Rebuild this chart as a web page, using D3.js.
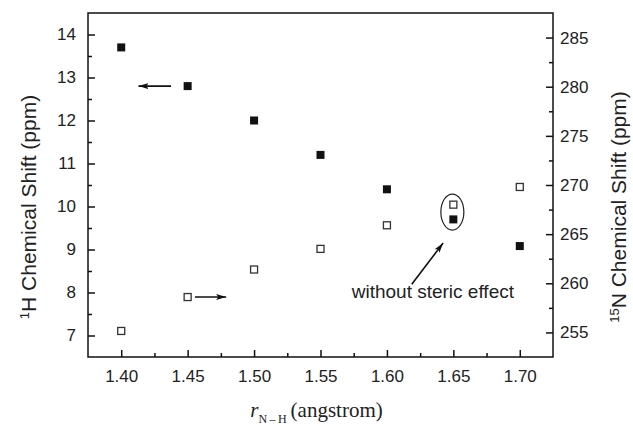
<!DOCTYPE html>
<html>
<head>
<meta charset="utf-8">
<script src="https://cdn.jsdelivr.net/npm/d3@7"></script>
<style>
  body { margin: 0; background: #fff; }
  svg { display: block; }
  .tick text { font-family: "Liberation Sans", Arial, sans-serif; font-size: 17px; fill: #222; }
</style>
</head>
<body>
<div id="chart"></div>
<script>
// bond length r(N-H) vs chemical shifts
let rNH = [1.40, 1.45, 1.50, 1.55, 1.60, 1.65, 1.70]
let hShift = [13.7, 12.8, 12.0, 11.2, 10.4, 9.7, 9.08]       // 1H, left axis (filled)
let nShift = [255.15, 258.6, 261.4, 263.5, 265.9, 268.0, 269.8] // 15N, right axis (open)
let xTicks = [1.40, 1.45, 1.50, 1.55, 1.60, 1.65, 1.70]
let hTicks = [7, 8, 9, 10, 11, 12, 13, 14]
let nTicks = [255, 260, 265, 270, 275, 280, 285]

var margin = {top: 13, right: 80, bottom: 70, left: 88},
    width = 633 - margin.left - margin.right,
    height = 427 - margin.top - margin.bottom;

var svg = d3.select("#chart")
    .append("svg")
        .attr("width", 633)
        .attr("height", 427)
    .append("g")
        .attr("transform", "translate(" + margin.left + "," + margin.top + ")");

var x = d3.scaleLinear().domain([1.375, 1.725]).range([0, width]);
var yH = d3.scaleLinear().domain([6.5, 14.5]).range([height, 0]);
var yN = d3.scaleLinear().domain([252.5, 287.5]).range([height, 0]);

// arrow head
svg.append("defs").append("marker")
    .attr("id", "head")
    .attr("viewBox", "0 0 10 6")
    .attr("refX", 10).attr("refY", 3)
    .attr("markerWidth", 10).attr("markerHeight", 6)
    .attr("markerUnits", "userSpaceOnUse")
    .attr("orient", "auto")
    .append("path").attr("d", "M0,0 L10,3 L0,6 L2,3 Z").attr("fill", "#111");

// minor ticks
var minorX = d3.range(1.425, 1.72, 0.05)
var minorH = d3.range(7.5, 14.4, 1)
var minorN = d3.range(257.5, 286, 5)
svg.append("g").attr("transform", "translate(0," + height + ")")
    .call(d3.axisBottom(x).tickValues(minorX).tickSize(-4).tickFormat(""))
svg.append("g")
    .call(d3.axisLeft(yH).tickValues(minorH).tickSize(-4).tickFormat(""))
svg.append("g").attr("transform", "translate(" + width + ",0)")
    .call(d3.axisRight(yN).tickValues(minorN).tickSize(-4).tickFormat(""))

// major axes
svg.append("g").attr("transform", "translate(0," + height + ")")
    .call(d3.axisBottom(x).tickValues(xTicks).tickSize(-7).tickPadding(13).tickFormat(d3.format(".2f")))
svg.append("g")
    .call(d3.axisLeft(yH).tickValues(hTicks).tickSize(-7).tickPadding(12))
svg.append("g").attr("transform", "translate(" + width + ",0)")
    .call(d3.axisRight(yN).tickValues(nTicks).tickSize(-7).tickPadding(7))

svg.selectAll(".domain").remove()
svg.selectAll(".tick line").attr("stroke", "#111").attr("stroke-width", 1.5)

// frame
svg.append("rect")
    .attr("width", width).attr("height", height)
    .attr("fill", "none").attr("stroke", "#111").attr("stroke-width", 1.5)

// 1H points (filled)
var sq = 8
svg.selectAll(".hpt")
    .data(rNH)
    .enter()
    .append("rect")
        .attr("class", "hpt")
        .attr("x", function(d) { return x(d) - sq / 2 })
        .attr("y", function(d, i) { return yH(hShift[i]) - sq / 2 })
        .attr("width", sq).attr("height", sq)
        .attr("fill", "#111")

// 15N points (open)
svg.selectAll(".npt")
    .data(rNH)
    .enter()
    .append("rect")
        .attr("class", "npt")
        .attr("x", function(d) { return x(d) - sq / 2 + 0.5 })
        .attr("y", function(d, i) { return yN(nShift[i]) - sq / 2 + 0.5 })
        .attr("width", sq - 1).attr("height", sq - 1)
        .attr("fill", "#fff")
        .attr("stroke", "#333").attr("stroke-width", 1.3)

// arrows pointing at the axis each series belongs to
svg.append("line")
    .attr("x1", x(1.4375)).attr("y1", yH(12.8))
    .attr("x2", x(1.413)).attr("y2", yH(12.8))
    .attr("stroke", "#111").attr("stroke-width", 1.6)
    .attr("marker-end", "url(#head)")
svg.append("line")
    .attr("x1", x(1.4555)).attr("y1", yN(258.6))
    .attr("x2", x(1.479)).attr("y2", yN(258.6))
    .attr("stroke", "#111").attr("stroke-width", 1.6)
    .attr("marker-end", "url(#head)")

// ellipse + note for the 1.65 pair
svg.append("ellipse")
    .attr("cx", x(1.65) - 1).attr("cy", (yN(nShift[5]) + yH(hShift[5])) / 2)
    .attr("rx", 11.5).attr("ry", 18)
    .attr("fill", "none").attr("stroke", "#222").attr("stroke-width", 1.2)
svg.append("line")
    .attr("x1", x(1.6187)).attr("y1", yN(259.9))
    .attr("x2", x(1.6423)).attr("y2", yN(264.1))
    .attr("stroke", "#111").attr("stroke-width", 1.6)
    .attr("marker-end", "url(#head)")
svg.append("text")
    .attr("x", x(1.5735)).attr("y", yN(258.5))
    .style("font-family", "Liberation Sans, Arial, sans-serif")
    .style("font-size", "19px").style("fill", "#222")
    .text("without steric effect")

// axis titles
var left = svg.append("text")
    .attr("transform", "translate(" + (-52) + "," + (height / 2 + 22) + ") rotate(-90)")
    .attr("text-anchor", "middle")
    .style("font-family", "Liberation Sans, Arial, sans-serif")
    .style("font-size", "21px").style("fill", "#222")
left.append("tspan").attr("baseline-shift", "super").style("font-size", "13px").text("1")
left.append("tspan").text("H Chemical Shift (ppm)")

var right = svg.append("text")
    .attr("transform", "translate(" + (width + 73) + "," + (height / 2 + 22) + ") rotate(-90)")
    .attr("text-anchor", "middle")
    .style("font-family", "Liberation Sans, Arial, sans-serif")
    .style("font-size", "21px").style("fill", "#222")
right.append("tspan").attr("baseline-shift", "super").style("font-size", "13px").text("15")
right.append("tspan").text("N Chemical Shift (ppm)")

var xt = svg.append("text")
    .attr("x", width / 2 - 4).attr("y", height + 60)
    .attr("text-anchor", "middle")
    .style("font-family", "Liberation Serif, 'Times New Roman', serif")
    .style("font-size", "21px").style("fill", "#222")
xt.append("tspan").style("font-style", "italic").text("r")
xt.append("tspan").attr("baseline-shift", "-6").style("font-size", "12px").text("N\u2009\u2013\u2009H")
xt.append("tspan").attr("dx", 4).text("(angstrom)")
</script>
</body>
</html>
